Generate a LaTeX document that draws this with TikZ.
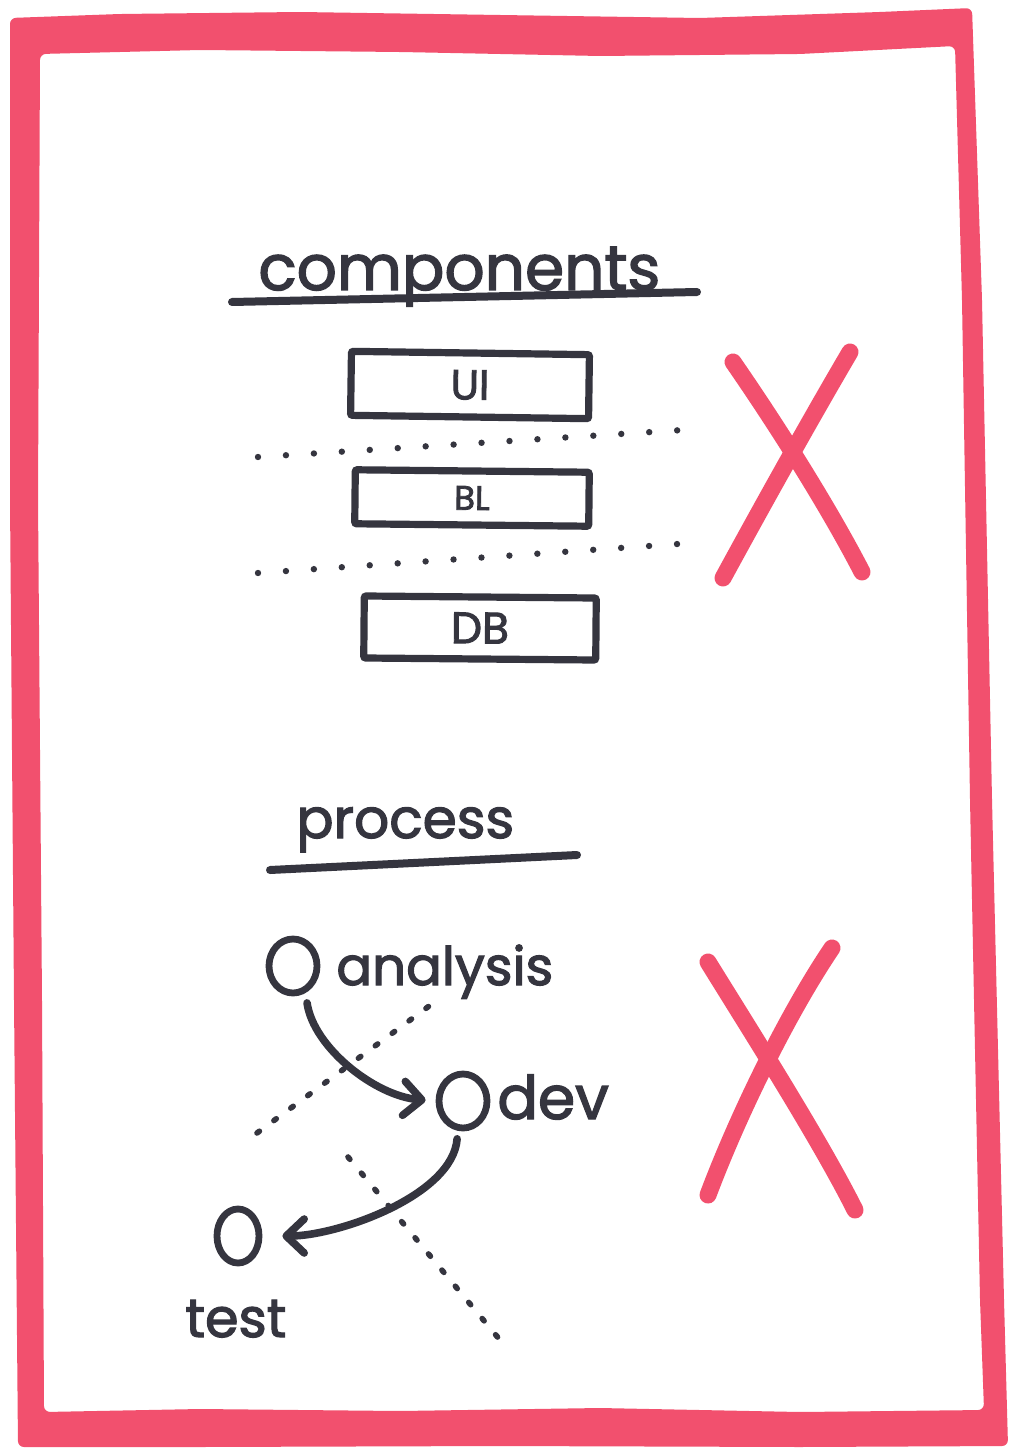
\documentclass[tikz,border=0pt]{standalone}
\usepackage{fontspec}
\setmainfont{Poppins}[FakeBold=2.2]
\usetikzlibrary{arrows.meta,shapes.geometric}
\definecolor{ink}{HTML}{35353F}
\definecolor{marker}{HTML}{F2506E}
\begin{document}
\begin{tikzpicture}[x=0.5pt,y=-0.5pt,
  inkline/.style={draw=ink,line width=4pt,line cap=round,line join=round},
  layerbox/.style={draw=ink,line width=3.6pt,inner sep=0pt,text=ink,rounded corners=1pt},
  stage/.style={ellipse,draw=ink,line width=3.4pt,inner sep=0pt,minimum width=24pt,minimum height=27pt},
  flow/.style={draw=ink,line width=3.8pt,line cap=round,
    -{Straight Barb[length=9pt,width=17pt,round]}},
  dotrow/.style={draw=ink,line width=3.2pt,line cap=round,dash pattern=on 0pt off 14pt},
  dashrow/.style={draw=ink,line width=2.8pt,line cap=round,dash pattern=on 1.5pt off 9pt},
  cross/.style={draw=marker,line width=8.5pt,line cap=round},
  label/.style={text=ink,inner sep=0pt,anchor=base west}]

% page and frame
\fill[white] (0,0) rectangle (1011,1449);
\useasboundingbox (0,0) rectangle (1011,1449);
\fill[marker,even odd rule,rounded corners=3pt]
  (10,18) -- (120,14) -- (300,12) -- (500,15) -- (700,18) -- (880,12) -- (972,8)
  -- (982,300) -- (992,800) -- (1004,1300) -- (1008,1446)
  -- (800,1447) -- (500,1446) -- (200,1447) -- (18,1447)
  -- (14,1000) -- (10,500) -- cycle
  (40,54) -- (200,50) -- (400,52) -- (600,56) -- (800,54) -- (955,46)
  -- (962,300) -- (970,800) -- (980,1300) -- (984,1410)
  -- (800,1412) -- (600,1408) -- (400,1411) -- (200,1409) -- (44,1412)
  -- (42,1000) -- (38,500) -- cycle;

% components
\node[label,font=\fontsize{31.5}{31.5}\selectfont] (comphead) at (258,290) {components};
\coordinate (cu1) at (232,302);
\coordinate (cu2) at (697,292);
\draw[inkline] (cu1) -- (cu2);

\node[layerbox,minimum width=119pt,minimum height=32pt,rotate=-0.8,font=\fontsize{21}{21}\selectfont] (ui) at (470,385) {UI};
\node[layerbox,minimum width=117pt,minimum height=27pt,rotate=-0.6,font=\fontsize{17}{17}\selectfont] (bl) at (472,498) {BL};
\node[layerbox,minimum width=116pt,minimum height=31pt,rotate=-0.5,font=\fontsize{22}{22}\selectfont] (db) at (480,628) {DB};

\coordinate (da1) at (258,457);
\coordinate (da2) at (683,430);
\coordinate (db1) at (258,573);
\coordinate (db2) at (692,543);
\draw[dotrow] (da1) -- (da2);
\draw[dotrow] (db1) -- (db2);

\draw[cross] (733,362) .. controls (780,430) and (830,510) .. (862,572);
\draw[cross] (850,352) .. controls (810,420) and (760,510) .. (723,578);

% process
\node[label,font=\fontsize{27.5}{27.5}\selectfont] (prochead) at (296,838) {process};
\coordinate (pu1) at (270,870);
\coordinate (pu2) at (577,855);
\draw[inkline] (pu1) -- (pu2);

\node[stage] (an) at (293,966) {};
\node[stage] (dev) at (463,1101) {};
\node[stage,minimum width=21pt] (test) at (238,1236) {};
\node[label,font=\fontsize{26.5}{26.5}\selectfont] (anlabel) at (336,985) {analysis};
\node[label,font=\fontsize{30}{30}\selectfont] (devlabel) at (497,1119) {dev};
\node[label,font=\fontsize{27}{27}\selectfont] (testlabel) at (185,1337) {test};

\coordinate (pa1) at (257,1133);
\coordinate (pa2) at (440,998);
\coordinate (pb1) at (348,1157);
\coordinate (pb2) at (500,1340);
\draw[dashrow] (pa1) -- (pa2);
\draw[dashrow] (pb1) -- (pb2);

\draw[flow,shorten <=5pt,shorten >=5pt] (an.-65) .. controls +(8,55) and +(-60,-5) .. (dev.west);
\draw[flow,shorten <=4pt,shorten >=10pt] (dev.-100) .. controls +(-5,65) and +(75,0) .. (test.east);

\draw[cross] (708,962) .. controls (750,1030) and (820,1140) .. (855,1210);
\draw[cross] (832,948) .. controls (790,1010) and (740,1110) .. (708,1195);

\end{tikzpicture}
\end{document}
